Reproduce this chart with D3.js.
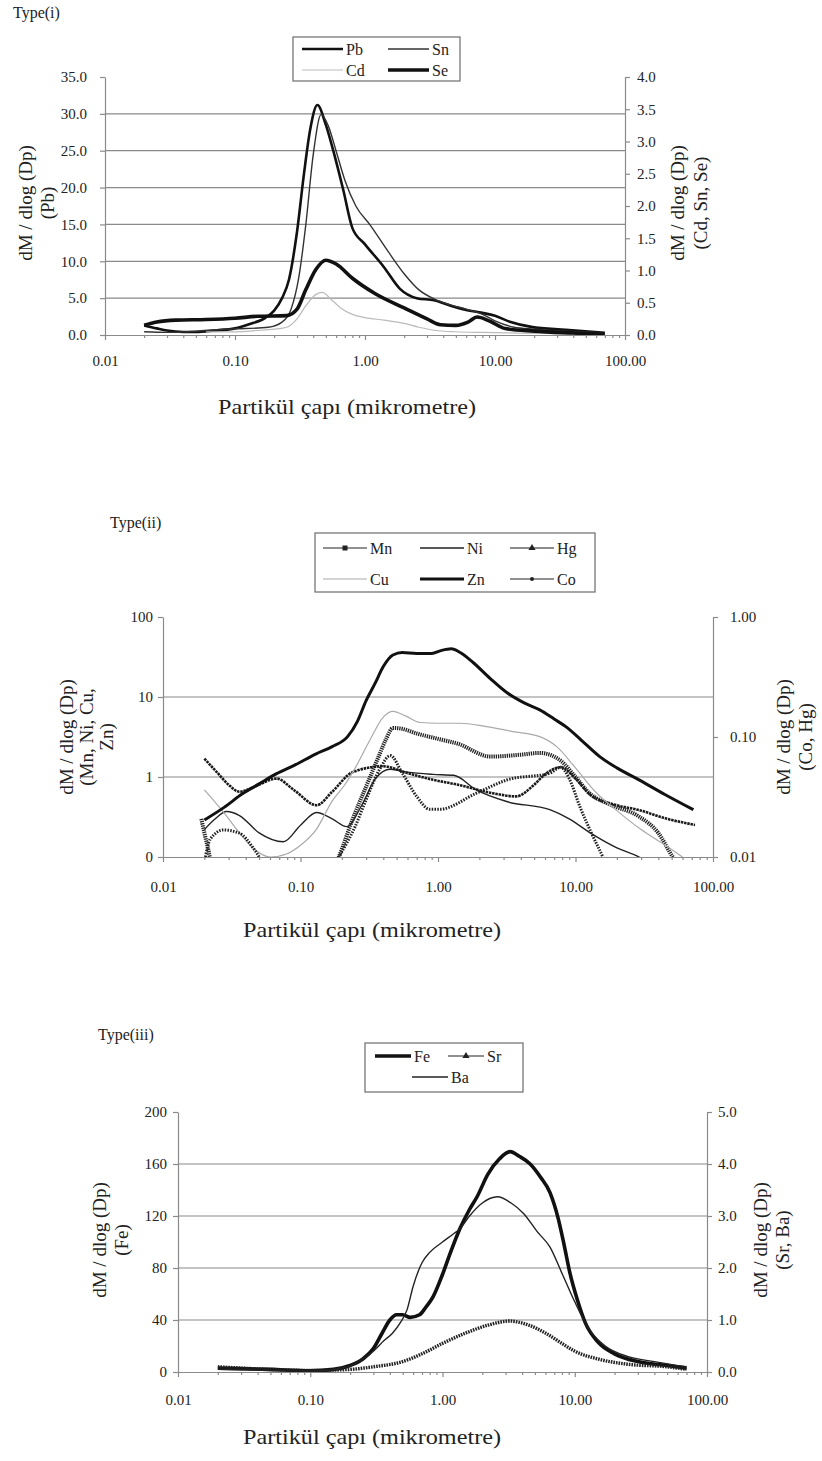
<!DOCTYPE html>
<html>
<head>
<meta charset="utf-8">
<script src="https://cdn.jsdelivr.net/npm/d3@7"></script>
<style>
body { margin: 0; background: #fff; }
svg text { font-family: "Liberation Serif", "Times New Roman", serif; fill: #222; }
</style>
</head>
<body>
<svg id="chart" width="822" height="1461"></svg>
<script>
// x axis (particle diameter, log)
var xTicks = [0.01, 0.1, 1, 10, 100];
var xTickLabels = ["0.01", "0.10", "1.00", "10.00", "100.00"];

// ---- Type(i) : [diameter, value]
var pb = [[0.02,1.3],[0.025,0.9],[0.03,0.6],[0.04,0.4],[0.05,0.4],[0.07,0.6],[0.1,0.9],[0.13,1.5],[0.17,2.3],[0.2,3.3],[0.23,5],[0.26,7.5],[0.3,14],[0.34,22],[0.38,28],[0.43,31.2],[0.5,28.5],[0.57,25],[0.68,19.7],[0.8,14.5],[1.0,12.3],[1.4,9.2],[1.85,6.3],[2.5,5.0],[3.4,4.7],[4.5,4.0],[6,3.4],[8,3.0],[10,2.6],[13,1.8],[19,1.1],[35,0.7],[70,0.3]];
var sn = [[0.02,0.05],[0.03,0.04],[0.05,0.06],[0.08,0.09],[0.12,0.1],[0.18,0.12],[0.23,0.2],[0.27,0.4],[0.31,0.9],[0.35,1.7],[0.4,2.8],[0.46,3.42],[0.52,3.25],[0.6,2.85],[0.7,2.4],[0.85,2.0],[1.1,1.7],[1.5,1.3],[2,0.95],[2.6,0.7],[3.4,0.56],[4.5,0.47],[6,0.4],[8,0.32],[10,0.22],[14,0.12],[20,0.09],[35,0.06],[70,0.03]];
var cd = [[0.06,0.05],[0.1,0.05],[0.15,0.07],[0.2,0.09],[0.25,0.12],[0.3,0.25],[0.35,0.45],[0.42,0.63],[0.47,0.66],[0.55,0.55],[0.65,0.42],[0.8,0.32],[1.0,0.27],[1.4,0.23],[2.0,0.18],[2.6,0.12],[3.5,0.07],[5,0.05],[8,0.04],[15,0.03],[30,0.02],[70,0.01]];
var se = [[0.02,0.15],[0.025,0.2],[0.035,0.23],[0.06,0.24],[0.1,0.26],[0.15,0.29],[0.25,0.3],[0.3,0.4],[0.35,0.7],[0.42,1.02],[0.5,1.16],[0.6,1.1],[0.8,0.88],[1.2,0.64],[2,0.42],[3,0.25],[3.8,0.16],[5,0.15],[6.2,0.2],[7.3,0.28],[9,0.22],[12,0.1],[20,0.06],[40,0.03],[70,0.01]];
var yTicksI = [0, 5, 10, 15, 20, 25, 30, 35];
var yTicksIRight = [0, 0.5, 1, 1.5, 2, 2.5, 3, 3.5, 4];

// ---- Type(ii)
var mn = [[0.019,0.3],[0.021,0.14],[0.023,0.08],[0.18,0.08],[0.19,0.1],[0.24,0.3],[0.3,0.76],[0.37,1.8],[0.42,3.0],[0.47,4.1],[0.55,4.0],[0.7,3.5],[1.0,3.0],[1.4,2.6],[2.4,1.8],[4,1.9],[5.5,2.0],[7.8,1.6],[10,1.0],[12.6,0.63],[18,0.45],[29,0.32],[40,0.2],[51,0.1],[60,0.07]];
var ni = [[0.02,0.22],[0.024,0.3],[0.029,0.37],[0.036,0.33],[0.05,0.2],[0.075,0.155],[0.1,0.25],[0.131,0.36],[0.17,0.3],[0.217,0.24],[0.28,0.45],[0.35,0.95],[0.45,1.25],[0.6,1.15],[0.92,1.08],[1.3,1.05],[1.9,0.69],[3.2,0.49],[6.5,0.39],[9,0.3],[12.8,0.2],[20,0.13],[29,0.1],[40,0.07]];
var hg = [[0.02,0.066],[0.025,0.05],[0.03,0.04],[0.036,0.035],[0.045,0.038],[0.067,0.045],[0.09,0.036],[0.131,0.027],[0.17,0.035],[0.24,0.051],[0.4,0.057],[0.6,0.05],[0.92,0.044],[1.4,0.04],[2.5,0.034],[3.7,0.032],[5,0.04],[5.9,0.048],[7.8,0.056],[10,0.045],[12.8,0.033],[20,0.027],[29,0.0246],[45,0.021],[74,0.0185]];
var cu = [[0.02,0.69],[0.028,0.35],[0.036,0.2],[0.045,0.13],[0.06,0.1],[0.08,0.11],[0.1,0.14],[0.13,0.22],[0.17,0.5],[0.21,0.8],[0.25,1.3],[0.32,2.9],[0.4,5.6],[0.47,6.6],[0.58,5.8],[0.74,4.8],[1.0,4.7],[1.45,4.7],[2.2,4.3],[3.5,3.7],[5.5,3.2],[7.3,2.4],[10,1.3],[14,0.65],[20,0.38],[30,0.22],[45,0.14],[60,0.1]];
var zn = [[0.02,0.29],[0.028,0.42],[0.038,0.62],[0.05,0.82],[0.067,1.1],[0.09,1.4],[0.13,1.95],[0.17,2.4],[0.22,3.2],[0.26,5],[0.3,9],[0.35,15],[0.4,24],[0.47,33.5],[0.55,36],[0.7,35],[0.9,35],[1.05,38],[1.25,40],[1.45,36],[1.8,27],[2.4,17],[3.2,11.2],[4.2,8.5],[5.5,6.9],[7,5.3],[8.6,4.2],[11,2.9],[15,1.8],[20,1.3],[29,0.92],[45,0.6],[72,0.39]];
var co = [[0.02,0.009],[0.022,0.014],[0.0275,0.0168],[0.036,0.0158],[0.045,0.012],[0.05,0.01],[0.055,0.008],[0.17,0.008],[0.19,0.01],[0.25,0.018],[0.3,0.03],[0.38,0.055],[0.45,0.07],[0.55,0.05],[0.7,0.032],[0.87,0.025],[1.03,0.025],[1.9,0.034],[3.2,0.044],[6.5,0.05],[7.8,0.056],[9,0.045],[10.8,0.026],[13,0.016],[15.8,0.01],[18,0.007]];
var yTicksII = [0.1, 1, 10, 100];
var yLabelsII = ["0", "1", "10", "100"];
var yTicksIIRight = [0.01, 0.1, 1];
var yLabelsIIRight = ["0.01", "0.10", "1.00"];

// ---- Type(iii)
var fe = [[0.02,3],[0.05,2],[0.1,1],[0.15,2],[0.2,5],[0.25,10],[0.3,18],[0.35,30],[0.4,40],[0.45,44],[0.5,44],[0.57,42],[0.67,44],[0.75,50],[0.85,58],[1.0,75],[1.15,92],[1.35,110],[1.6,125],[1.83,135],[2.2,152],[2.7,164],[3.24,169.5],[3.8,166],[4.6,160],[5.5,150],[6.5,138],[7.5,118],[8.3,98],[9.2,76],[10.5,55],[12,38],[15,23],[20,14],[30,8],[50,5],[70,3]];
var sr = [[0.02,0.1],[0.05,0.05],[0.1,0.03],[0.2,0.05],[0.3,0.1],[0.5,0.2],[0.7,0.35],[1.0,0.55],[1.5,0.75],[2.2,0.9],[3.2,0.98],[4.5,0.9],[6,0.75],[8,0.55],[10,0.4],[15,0.25],[25,0.15],[50,0.1],[70,0.05]];
var ba = [[0.02,0.05],[0.05,0.03],[0.1,0.02],[0.15,0.05],[0.2,0.12],[0.25,0.25],[0.3,0.4],[0.36,0.6],[0.42,0.75],[0.48,0.95],[0.54,1.2],[0.6,1.65],[0.7,2.1],[0.8,2.3],[1.0,2.5],[1.2,2.65],[1.35,2.75],[1.6,3.0],[2.0,3.25],[2.6,3.37],[3.3,3.25],[4.1,3.05],[5.2,2.7],[6.5,2.4],[8,1.9],[10,1.35],[13,0.8],[17,0.5],[25,0.3],[40,0.2],[70,0.1]];
var yTicksIII = [0, 40, 80, 120, 160, 200];
var yTicksIIIRight = [0, 1, 2, 3, 4, 5];

var svg = d3.select("#chart");
var xTitle = "Partikül çapı (mikrometre)";
var minorTicks = [];
[0.01, 0.1, 1, 10].forEach(function(b) {
  for (var k = 2; k <= 9; k++) minorTicks.push(b * k);
});

function panel(o) {
  var g = svg.append("g");
  var x = d3.scaleLog().domain([0.01, 100]).range([o.left, o.right]);
  var yL = (o.log ? d3.scaleLog() : d3.scaleLinear()).domain(o.yLDomain).range([o.bottom, o.top]);
  var yR = (o.log ? d3.scaleLog() : d3.scaleLinear()).domain(o.yRDomain).range([o.bottom, o.top]);

  // gridlines (not at bottom or top)
  g.append("g").selectAll("line")
    .data(o.yLTicks.slice(1, -1))
    .enter().append("line")
    .attr("x1", o.left).attr("x2", o.right)
    .attr("y1", function(d) { return yL(d); })
    .attr("y2", function(d) { return yL(d); })
    .attr("stroke", "#8a8a8a").attr("stroke-width", 1.2);

  var clipId = "clip" + o.id;
  svg.append("clipPath").attr("id", clipId).append("rect")
    .attr("x", o.left).attr("y", o.top - 10)
    .attr("width", o.right - o.left).attr("height", o.bottom - o.top + 10);

  // axes
  var axL = g.append("g").attr("transform", "translate(" + o.left + ",0)")
    .call(d3.axisLeft(yL).tickValues(o.yLTicks).tickSize(5).tickSizeOuter(0).tickPadding(o.padL)
      .tickFormat(function(d, i) { return o.yLLabels[i]; }));
  var axR = g.append("g").attr("transform", "translate(" + o.right + ",0)")
    .call(d3.axisRight(yR).tickValues(o.yRTicks).tickSize(5).tickSizeOuter(0).tickPadding(o.padR)
      .tickFormat(function(d, i) { return o.yRLabels[i]; }));
  var axB = g.append("g").attr("transform", "translate(0," + o.bottom + ")")
    .call(d3.axisBottom(x).tickValues(xTicks).tickSize(5).tickSizeOuter(0)
      .tickFormat(function(d, i) { return xTickLabels[i]; }));
  var axM = g.append("g").attr("transform", "translate(0," + o.bottom + ")")
    .call(d3.axisBottom(x).tickValues(minorTicks).tickSize(3).tickSizeOuter(0).tickFormat(""));
  axM.select(".domain").remove();

  [axL, axR, axB, axM].forEach(function(a) {
    a.attr("font-family", null).attr("font-size", null);
    a.selectAll("path, line").attr("stroke", "#8a8a8a").attr("stroke-width", 1.2);
    a.selectAll("text").style("font-size", "15px");
  });
  axB.selectAll("text").attr("y", o.xLabelOff);

  // series
  var clipped = g.append("g").attr("clip-path", "url(#" + clipId + ")");
  o.series.forEach(function(s) {
    var y = s.right ? yR : yL;
    var line = d3.line()
      .x(function(d) { return x(d[0]); })
      .y(function(d) { return y(d[1]); })
      .curve(d3.curveMonotoneX);
    clipped.append("path")
      .datum(s.data)
      .attr("fill", "none")
      .attr("stroke", s.color)
      .attr("stroke-width", s.width)
      .attr("stroke-dasharray", s.dash || null)
      .attr("stroke-linejoin", "round")
      .attr("d", line);
  });

  // axis titles
  o.leftTitle.forEach(function(t, i) {
    g.append("text")
      .attr("transform", "translate(" + o.leftTitleX[i] + "," + o.titleY + ") rotate(-90)")
      .attr("text-anchor", "middle").attr("dy", "0.35em")
      .style("font-size", "19px").text(t);
  });
  o.rightTitle.forEach(function(t, i) {
    g.append("text")
      .attr("transform", "translate(" + o.rightTitleX[i] + "," + o.titleY + ") rotate(-90)")
      .attr("text-anchor", "middle").attr("dy", "0.35em")
      .style("font-size", "19px").text(t);
  });
  g.append("text")
    .attr("x", o.xTitleX).attr("y", o.xTitleY)
    .attr("text-anchor", "middle")
    .attr("textLength", 258).attr("lengthAdjust", "spacingAndGlyphs")
    .style("font-size", "21px").text(xTitle);

  g.append("text").attr("x", o.typeX).attr("y", o.typeY)
    .style("font-size", "16px").text(o.type);

  // legend
  var lg = g.append("g");
  lg.append("rect")
    .attr("x", o.legend.x).attr("y", o.legend.y)
    .attr("width", o.legend.w).attr("height", o.legend.h)
    .attr("fill", "#fff").attr("stroke", "#777").attr("stroke-width", 1.3);
  o.series.forEach(function(s) {
    var it = s.leg;
    lg.append("line")
      .attr("x1", it[0]).attr("x2", it[0] + o.legend.len)
      .attr("y1", it[1]).attr("y2", it[1])
      .attr("stroke", s.color)
      .attr("stroke-width", s.legWidth || s.width);
    if (s.marker === "x") {
      lg.append("rect").attr("x", it[0] + o.legend.len / 2 - 2.5).attr("y", it[1] - 2.5)
        .attr("width", 5).attr("height", 5).attr("fill", "#222");
    } else if (s.marker === "tri") {
      lg.append("path").attr("d", d3.symbol(d3.symbolTriangle, 22)())
        .attr("transform", "translate(" + (it[0] + o.legend.len / 2) + "," + it[1] + ")")
        .attr("fill", "#222");
    } else if (s.marker === "dot") {
      lg.append("circle").attr("cx", it[0] + o.legend.len / 2).attr("cy", it[1])
        .attr("r", 2).attr("fill", "#222");
    }
    lg.append("text")
      .attr("x", it[0] + o.legend.len + 3).attr("y", it[1]).attr("dy", "0.35em")
      .style("font-size", "16px").text(s.name);
  });
}

panel({
  id: 1, type: "Type(i)", typeX: 13, typeY: 18,
  left: 105, right: 625, top: 77, bottom: 335, log: false,
  yLDomain: [0, 35], yRDomain: [0, 4],
  yLTicks: yTicksI, yLLabels: yTicksI.map(function(d) { return d.toFixed(1); }),
  yRTicks: yTicksIRight, yRLabels: yTicksIRight.map(function(d) { return d.toFixed(1); }),
  padL: 13, padR: 7, xLabelOff: 20,
  leftTitle: ["dM / dlog (Dp)", "(Pb)"], leftTitleX: [25, 47],
  rightTitle: ["dM / dlog (Dp)", "(Cd, Sn, Se)"], rightTitleX: [677, 700],
  titleY: 203, xTitleX: 347, xTitleY: 414,
  legend: {x: 293, y: 37, w: 167, h: 44, len: 41},
  series: [
    {name: "Pb", data: pb, color: "#111", width: 2.6, leg: [302, 49]},
    {name: "Sn", data: sn, color: "#333", width: 1.4, right: true, leg: [388, 49]},
    {name: "Cd", data: cd, color: "#bbb", width: 1.2, right: true, leg: [302, 70]},
    {name: "Se", data: se, color: "#111", width: 3.6, right: true, leg: [388, 70]}
  ]
});

panel({
  id: 2, type: "Type(ii)", typeX: 110, typeY: 528,
  left: 163, right: 713, top: 617, bottom: 857, log: true,
  yLDomain: [0.1, 100], yRDomain: [0.01, 1],
  yLTicks: yTicksII, yLLabels: yLabelsII,
  yRTicks: yTicksIIRight, yRLabels: yLabelsIIRight,
  padL: 5, padR: 12, xLabelOff: 24,
  leftTitle: ["dM / dlog (Dp)", "(Mn, Ni, Cu,", "Zn)"], leftTitleX: [66, 86, 106],
  rightTitle: ["dM / dlog (Dp)", "(Co, Hg)"], rightTitleX: [783, 805],
  titleY: 737, xTitleX: 372, xTitleY: 937,
  legend: {x: 315, y: 533, w: 280, h: 59, len: 44},
  series: [
    {name: "Mn", data: mn, color: "#222", width: 4, dash: "1.3,0.9", legWidth: 1.2, marker: "x", leg: [323, 548]},
    {name: "Ni", data: ni, color: "#222", width: 1.4, leg: [420, 548]},
    {name: "Hg", data: hg, color: "#1a1a1a", width: 2.6, dash: "2.5,0.8", legWidth: 1.2, marker: "tri", right: true, leg: [510, 548]},
    {name: "Cu", data: cu, color: "#aaa", width: 1.2, leg: [323, 579]},
    {name: "Zn", data: zn, color: "#111", width: 3, leg: [420, 579]},
    {name: "Co", data: co, color: "#222", width: 3, dash: "1.5,1.3", legWidth: 1.2, marker: "dot", right: true, leg: [510, 579]}
  ]
});

panel({
  id: 3, type: "Type(iii)", typeX: 98, typeY: 1040,
  left: 178, right: 707, top: 1112, bottom: 1372, log: false,
  yLDomain: [0, 200], yRDomain: [0, 5],
  yLTicks: yTicksIII, yLLabels: yTicksIII.map(String),
  yRTicks: yTicksIIIRight, yRLabels: yTicksIIIRight.map(function(d) { return d.toFixed(1); }),
  padL: 6, padR: 6, xLabelOff: 22,
  leftTitle: ["dM / dlog (Dp)", "(Fe)"], leftTitleX: [99, 121],
  rightTitle: ["dM / dlog (Dp)", "(Sr, Ba)"], rightTitleX: [760, 782],
  titleY: 1240, xTitleX: 372, xTitleY: 1444,
  legend: {x: 365, y: 1043, w: 158, h: 49, len: 36},
  series: [
    {name: "Fe", data: fe, color: "#111", width: 3.6, leg: [375, 1056]},
    {name: "Sr", data: sr, color: "#222", width: 3.4, dash: "1.6,1", legWidth: 1.2, marker: "tri", right: true, leg: [448, 1056]},
    {name: "Ba", data: ba, color: "#222", width: 1.4, right: true, leg: [412, 1077]}
  ]
});
</script>
</body>
</html>
